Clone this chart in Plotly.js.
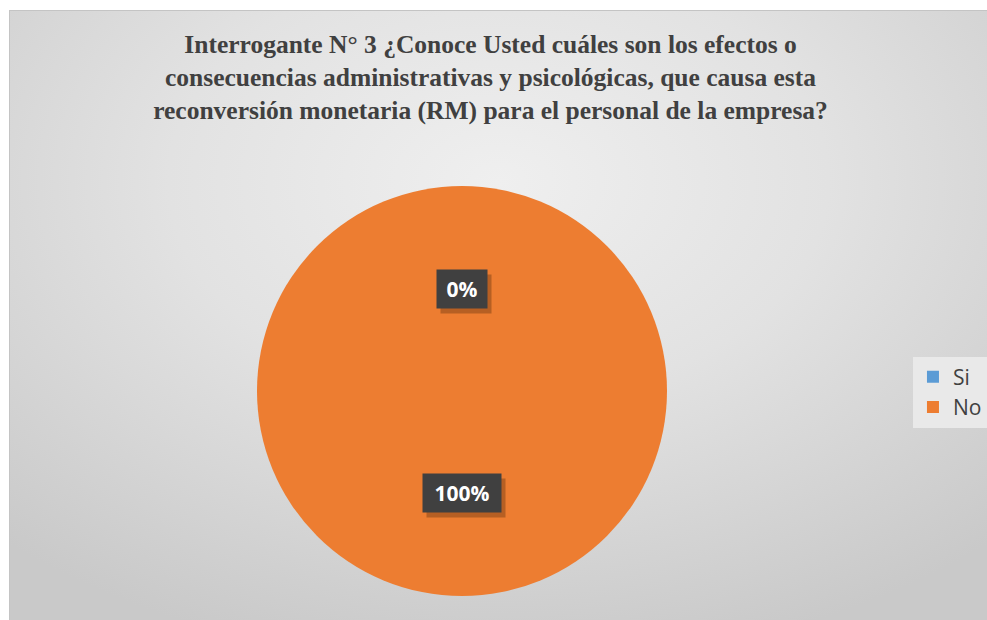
<!DOCTYPE html>
<html>
<head>
<meta charset="utf-8">
<script src="https://cdn.plot.ly/plotly-3.0.1.min.js"></script>
<style>
  html, body { margin: 0; padding: 0; background: #ffffff; }
  #bg { position: absolute; left: 9px; top: 10px; width: 977px; height: 609px;
        border: 1px solid #c4c4c4;
        background: radial-gradient(ellipse 75% 80% at 50% 28%, #efefef 0%, #e2e2e2 45%, #c9c9c9 100%); }
  #chart { position: absolute; left: 0; top: 0; width: 987px; height: 620px; }
</style>
</head>
<body>
<div id="bg"></div>
<div id="chart"></div>
<script>
const categories = ["Si", "No"];
const values = [0, 100];
const colors = ["#5B9BD5", "#ED7D31"];
const titleText = "Interrogante N° 3 ¿Conoce Usted cuáles son los efectos o<br>consecuencias administrativas y psicológicas, que causa esta<br>reconversión monetaria (RM) para el personal de la empresa?";

const W = 987, H = 620;
const domX = [257 / W, 667 / W];
const domY = [(620 - 596) / H, (620 - 186) / H];
const cx = (domX[0] + domX[1]) / 2, cy = (domY[0] + domY[1]) / 2;
const Rpx = Math.min((domX[1] - domX[0]) * W, (domY[1] - domY[0]) * H) / 2;

const total = values.reduce((a, b) => a + b, 0);
const annotations = [];
let cum = 0;
values.forEach((v, i) => {
  const frac = v / total;
  const mid = (cum + frac / 2) * 2 * Math.PI; // clockwise from 12 o'clock
  cum += frac;
  const x = cx + 0.5 * Rpx * Math.sin(mid) / W;
  const y = cy + 0.5 * Rpx * Math.cos(mid) / H;
  const txt = Math.round(frac * 100) + "%";
  const bw = 22 + 14 * txt.length;
  // shadow box
  annotations.push({
    xref: "paper", yref: "paper", x: x, y: y, xanchor: "center", yanchor: "middle",
    xshift: 4, yshift: -5, width: bw, height: 38,
    text: "&nbsp;", showarrow: false,
    font: { size: 10, color: "rgba(0,0,0,0)" },
    bgcolor: "rgba(70,35,10,0.33)", borderpad: 0
  });
  annotations.push({
    xref: "paper", yref: "paper", x: x, y: y, xanchor: "center", yanchor: "middle",
    width: bw, height: 38,
    text: "<b>" + txt + "</b>", showarrow: false,
    font: { family: "Open Sans, Liberation Sans, sans-serif", size: 21, color: "#ffffff" },
    bgcolor: "#404040", borderpad: 0
  });
});

const trace = {
  type: "pie",
  labels: categories,
  values: values,
  sort: false,
  direction: "clockwise",
  rotation: 0,
  marker: { colors: colors, line: { width: 0 } },
  textinfo: "none",
  hoverinfo: "label+percent",
  domain: { x: domX, y: domY }
};

const layout = {
  width: W, height: H,
  margin: { l: 0, r: 0, t: 0, b: 0 },
  paper_bgcolor: "rgba(0,0,0,0)",
  plot_bgcolor: "rgba(0,0,0,0)",
  title: {
    text: "<b>" + titleText + "</b>",
    font: { family: "Liberation Serif, Times New Roman, serif", size: 25.5, color: "#404040" },
    x: 0.497, xanchor: "center", y: 1 - 53 / 620, yanchor: "middle"
  },
  showlegend: true,
  legend: {
    x: 0.925, xanchor: "left", y: 1 - 392 / 620, yanchor: "middle",
    bgcolor: "rgba(235,235,235,0.9)",
    font: { family: "Open Sans, Liberation Sans, sans-serif", size: 21, color: "#404040" },
    itemwidth: 30
  },
  annotations: annotations
};

Plotly.newPlot("chart", [trace], layout, { displayModeBar: false });
</script>
</body>
</html>
